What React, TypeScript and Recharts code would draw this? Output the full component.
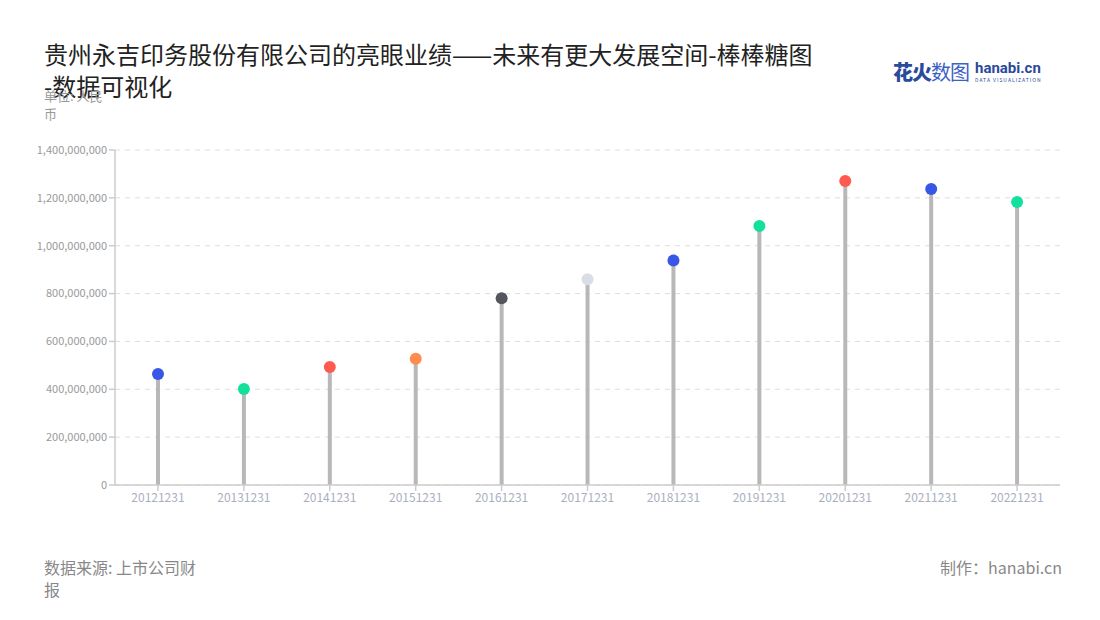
import { ComposedChart, Bar, XAxis, YAxis, CartesianGrid } from 'recharts';

const categories = [
  '20121231', '20131231', '20141231', '20151231', '20161231', '20171231',
  '20181231', '20191231', '20201231', '20211231', '20221231',
];
const revenue = [
  464000000, 401000000, 493000000, 528000000, 780000000, 860000000,
  938000000, 1082000000, 1270000000, 1237000000, 1183000000,
];
const dotColors = [
  '#3957e6', '#13e09c', '#ff5a4f', '#ff8b4f', '#54555d', '#d9dde6',
  '#3957e6', '#13e09c', '#ff5a4f', '#3957e6', '#13e09c',
];
const yTicks = [0, 200000000, 400000000, 600000000, 800000000, 1000000000, 1200000000, 1400000000];

const data = categories.map((c, i) => ({ name: c, value: revenue[i], color: dotColors[i] }));

const Lollipop = (props: any) => {
  const { x, y, width, height, payload } = props;
  const cx = x + width / 2;
  return (
    <g>
      <rect x={cx - 2} y={y} width={4} height={height} fill="#b8b8b8" />
      <circle cx={cx} cy={y} r={6} fill={payload.color} />
    </g>
  );
};

const fmt = (v: number) => v.toLocaleString('en-US');

const App = () => {
  return (
    <div
      style={{
        position: 'absolute',
        left: 0,
        top: 0,
        width: 1100,
        height: 620,
        background: '#fff',
        fontFamily: '"Noto Sans CJK SC", "Noto Sans", sans-serif',
      }}
    >
      <div
        style={{
          position: 'absolute',
          left: 44,
          top: 38,
          width: 800,
          fontSize: 24,
          lineHeight: '32px',
          color: '#222',
        }}
      >
        贵州永吉印务股份有限公司的亮眼业绩——未来有更大发展空间-棒棒糖图
        <br />
        -数据可视化
      </div>
      <div
        style={{
          position: 'absolute',
          left: 44,
          top: 87,
          width: 66,
          fontSize: 13,
          lineHeight: '18px',
          color: '#999',
        }}
      >
        单位: 人民币
      </div>

      <div style={{ position: 'absolute', left: 893, top: 57, display: 'flex', alignItems: 'center' }}>
        <span style={{ fontSize: 20, fontWeight: 900, color: '#2a4a9c', letterSpacing: -1 }}>花火</span>
        <span style={{ fontSize: 20, color: '#3d62c4', letterSpacing: -1 }}>数图</span>
        <div style={{ marginLeft: 6, display: 'flex', flexDirection: 'column', lineHeight: 1 }}>
          <span style={{ fontSize: 15, fontWeight: 700, color: '#2a4a9c', fontFamily: 'Roboto, sans-serif' }}>
            hanabi.cn
          </span>
          <span style={{ fontSize: 5, color: '#2a4a9c', letterSpacing: 1, marginTop: 1 }}>DATA VISUALIZATION</span>
        </div>
      </div>

      <div style={{ position: 'absolute', top: 0, left: 0 }}>
        <ComposedChart
          width={1100}
          height={620}
          data={data}
          margin={{ top: 150, right: 40, bottom: 105, left: 0 }}
        >
          <CartesianGrid vertical={false} stroke="#dedede" strokeDasharray="5 5" />
          <XAxis
            dataKey="name"
            height={30}
            stroke="#cccccc"
            strokeWidth={1.5}
            tickLine={{ stroke: '#cccccc' }}
            tick={{ fill: '#a9afbe', fontSize: 12 }}
            interval={0}
          />
          <YAxis
            width={115}
            domain={[0, 1400000000]}
            ticks={yTicks}
            tickFormatter={fmt}
            stroke="#cccccc"
            strokeWidth={1.5}
            tickLine={{ stroke: '#cccccc' }}
            tick={{ fill: '#999999', fontSize: 11 }}
          />
          <Bar dataKey="value" barSize={4} shape={Lollipop} isAnimationActive={false} />
        </ComposedChart>
      </div>

      <div
        style={{
          position: 'absolute',
          left: 44,
          top: 556,
          width: 156,
          fontSize: 16,
          lineHeight: '22px',
          color: '#888',
        }}
      >
        数据来源: 上市公司财报
      </div>
      <div
        style={{
          position: 'absolute',
          right: 38,
          top: 556,
          fontSize: 16,
          lineHeight: '22px',
          color: '#888',
        }}
      >
        制作：hanabi.cn
      </div>
    </div>
  );
};

export default App;
